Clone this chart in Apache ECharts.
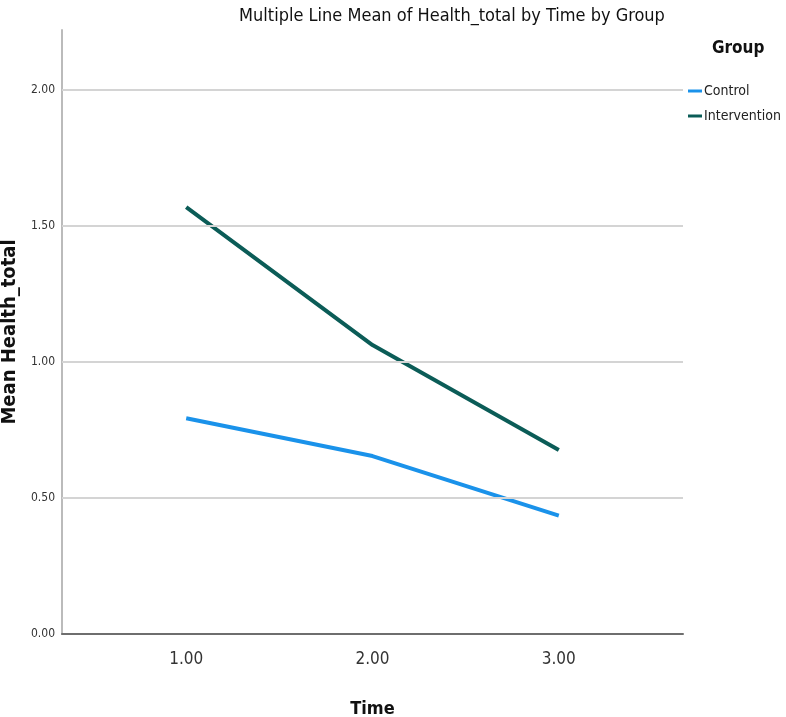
<!DOCTYPE html>
<html>
<head>
<meta charset="utf-8">
<script src="https://cdn.jsdelivr.net/npm/echarts@6/dist/echarts.min.js"></script>
<style>
  html, body { margin: 0; padding: 0; background: #fff; }
  #chart { width: 786px; height: 717px; }
</style>
</head>
<body>
<div id="chart"></div>
<script>
const times = [1, 2, 3];
const timeLabels = ["1.00", "2.00", "3.00"];
const control = [0.793, 0.654, 0.435];
const intervention = [1.569, 1.062, 0.676];
const yTicks = [0, 0.5, 1, 1.5, 2];

const narrow = "'DejaVu Sans Condensed', 'Liberation Sans Narrow', 'Liberation Sans', sans-serif";

const chart = echarts.init(document.getElementById("chart"), null, { renderer: "canvas" });

chart.setOption({
  animation: false,
  backgroundColor: "#fff",
  title: {
    text: "Multiple Line Mean of Health_total by Time by Group",
    left: 447, top: 2, textAlign: "center",
    textStyle: { fontFamily: narrow, fontSize: 18, fontWeight: "normal", color: "#111" },
  },
  legend: {
    left: 683, top: 79, orient: "vertical", itemGap: 11,
    itemWidth: 14, itemHeight: 3, icon: "rect",
    textStyle: { fontFamily: narrow, fontSize: 14, color: "#222", padding: [0, 0, 0, -3] },
    data: ["Control", "Intervention"],
  },
  graphic: [{
    type: "text", left: 712, top: 40,
    style: { text: "Group", font: "bold 17px " + narrow, fill: "#111" },
  }],
  grid: { left: 62, right: 103, top: 30, bottom: 83, outerBoundsMode: "none", containLabel: false },
  xAxis: {
    type: "value", min: 1 / 3, max: 11 / 3,
    name: "Time", nameLocation: "middle", nameGap: 66,
    nameTextStyle: { fontFamily: narrow, fontSize: 18, fontWeight: "bold", color: "#111" },
    axisLine: { show: true, lineStyle: { color: "#6e6e6e", width: 2 } },
    axisTick: { show: false },
    splitLine: { show: false },
    axisLabel: {
      customValues: times, margin: 17,
      formatter: v => timeLabels[times.indexOf(Math.round(v))] || "",
      fontFamily: narrow, fontSize: 17, color: "#333",
    },
  },
  yAxis: {
    type: "value", min: 0, max: 2.22,
    name: "Mean Health_total", nameLocation: "middle", nameGap: 38, nameRotate: 90,
    nameTextStyle: { fontFamily: narrow, fontSize: 20, fontWeight: "bold", color: "#111" },
    axisLine: { show: true, lineStyle: { color: "#bbbbbb", width: 2 } },
    axisTick: { show: false },
    splitLine: { show: false },
    axisLabel: {
      customValues: yTicks, margin: 7,
      formatter: v => v.toFixed(2),
      fontFamily: narrow, fontSize: 12, color: "#333",
    },
  },
  series: [
    {
      type: "line", name: "Grid", silent: true, data: [],
      markLine: {
        silent: true, symbol: "none", label: { show: false },
        lineStyle: { color: "#d4d4d4", width: 2, type: "solid" },
        data: yTicks.filter(v => v > 0).map(v => ({ yAxis: v })),
      },
    },
    {
      type: "line", name: "Control", symbol: "none",
      data: times.map((t, i) => [t, control[i]]),
      lineStyle: { color: "#1a92ea", width: 4 }, itemStyle: { color: "#1a92ea" },
    },
    {
      type: "line", name: "Intervention", symbol: "none",
      data: times.map((t, i) => [t, intervention[i]]),
      lineStyle: { color: "#0b5c57", width: 4 }, itemStyle: { color: "#0b5c57" },
    },
  ],
});
</script>
</body>
</html>
